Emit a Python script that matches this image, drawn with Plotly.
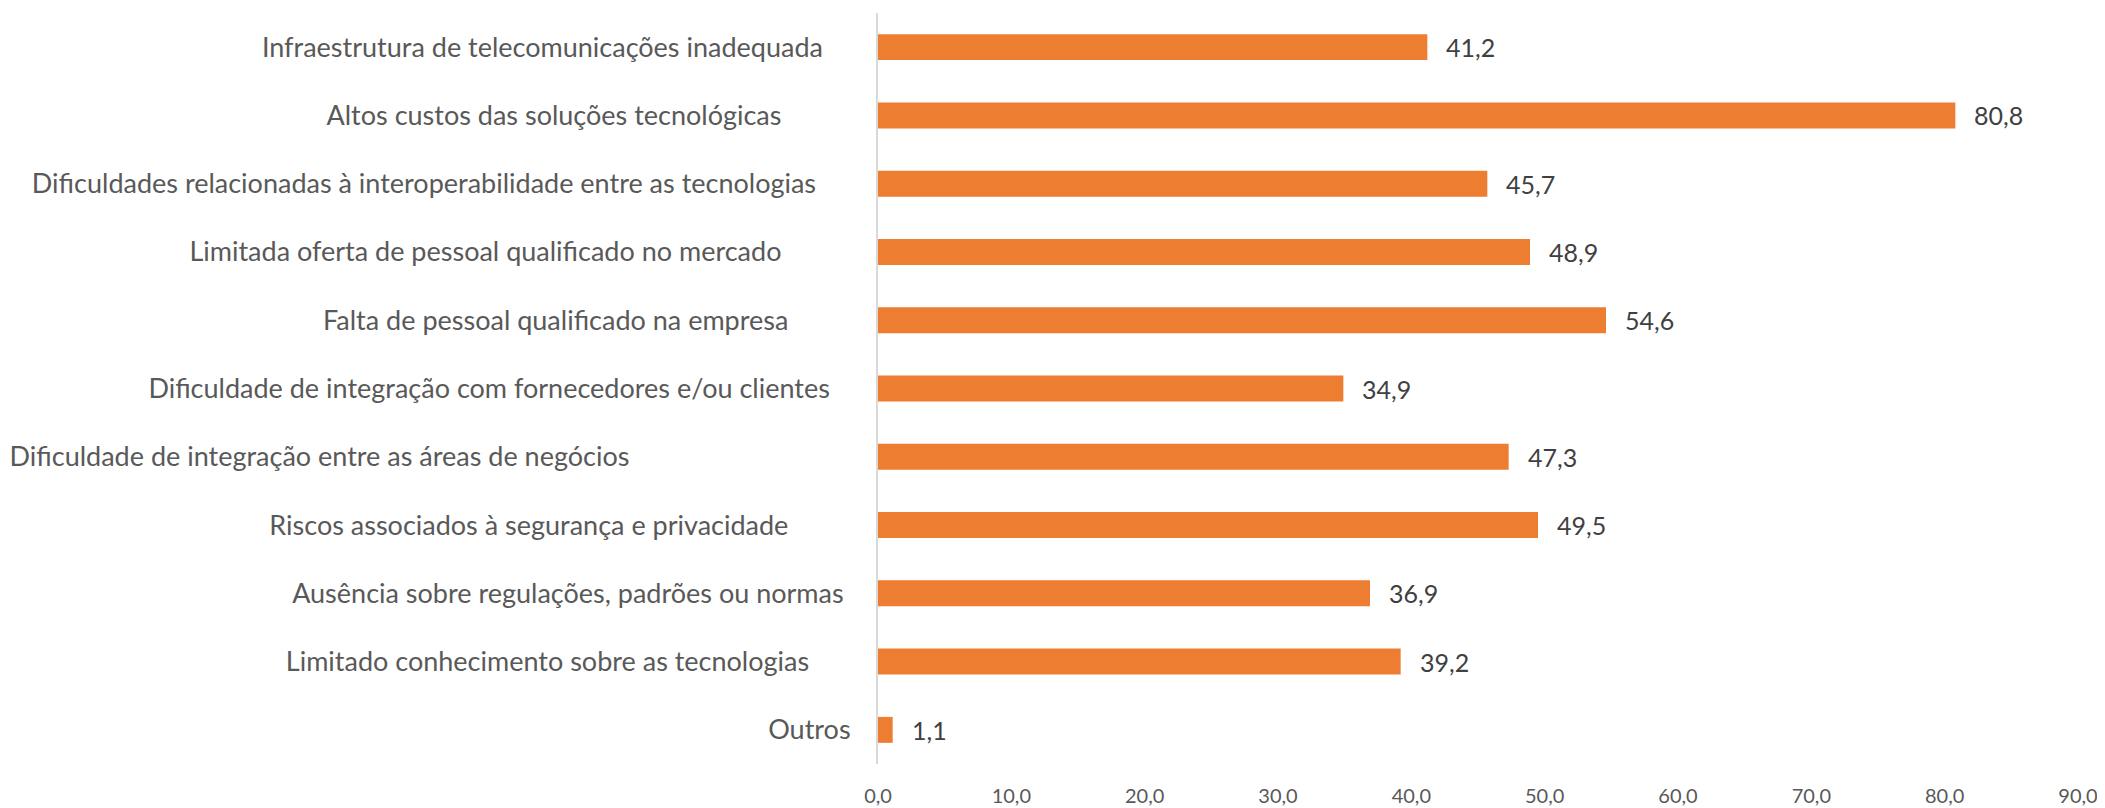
import plotly.graph_objects as go

categories = [
    "Infraestrutura de telecomunicações inadequada",
    "Altos custos das soluções tecnológicas",
    "Dificuldades relacionadas à interoperabilidade entre as tecnologias",
    "Limitada oferta de pessoal qualificado no mercado",
    "Falta de pessoal qualificado na empresa",
    "Dificuldade de integração com fornecedores e/ou clientes",
    "Dificuldade de integração entre as áreas de negócios",
    "Riscos associados à segurança e privacidade",
    "Ausência sobre regulações, padrões ou normas",
    "Limitado conhecimento sobre as tecnologias",
    "Outros",
]
values = [41.2, 80.8, 45.7, 48.9, 54.6, 34.9, 47.3, 49.5, 36.9, 39.2, 1.1]
x_ticks = [0, 10, 20, 30, 40, 50, 60, 70, 80, 90]

# style: trailing spaces after each category label (as in the source sheet)
label_trailing_spaces = [4, 10, 5, 10, 9, 3, 32, 9, 1, 6, 0]

BAR = "#ED7D31"
FONT = "Lato"

ticktext = [c + "\u00a0" * n for c, n in zip(categories, label_trailing_spaces)]

fig = go.Figure()
fig.add_trace(go.Bar(
    x=values, y=categories, orientation="h",
    marker=dict(color=BAR, line=dict(width=0)),
    width=0.38,
    hoverinfo="skip",
))

for c, v in zip(categories, values):
    fig.add_annotation(
        x=v, y=c, xref="x", yref="y",
        text=f"{v:.1f}".replace(".", ","),
        showarrow=False, xanchor="left", yanchor="middle",
        xshift=17,
        font=dict(family=FONT, size=25, color="#404040"),
    )

fig.update_layout(
    width=2105, height=808,
    margin=dict(l=870, r=35, t=5, b=52, autoexpand=False),
    paper_bgcolor="white", plot_bgcolor="white",
    showlegend=False,
    separators=",.",
)
fig.update_xaxes(
    range=[0, 90], tickvals=x_ticks, tickformat=".1f",
    showgrid=False, zeroline=False, showline=False,
    ticks="", ticklabelstandoff=18,
    tickfont=dict(family=FONT, size=20, color="#595959"),
    fixedrange=True,
)
fig.update_yaxes(
    autorange="reversed",
    tickmode="array", tickvals=categories, ticktext=ticktext,
    showgrid=False, zeroline=False,
    showline=True, linecolor="#D9D9D9", linewidth=2,
    ticks="", ticklabelstandoff=20,
    tickfont=dict(family=FONT, size=27, color="#595959"),
    fixedrange=True,
)

fig.write_html("out.html")
